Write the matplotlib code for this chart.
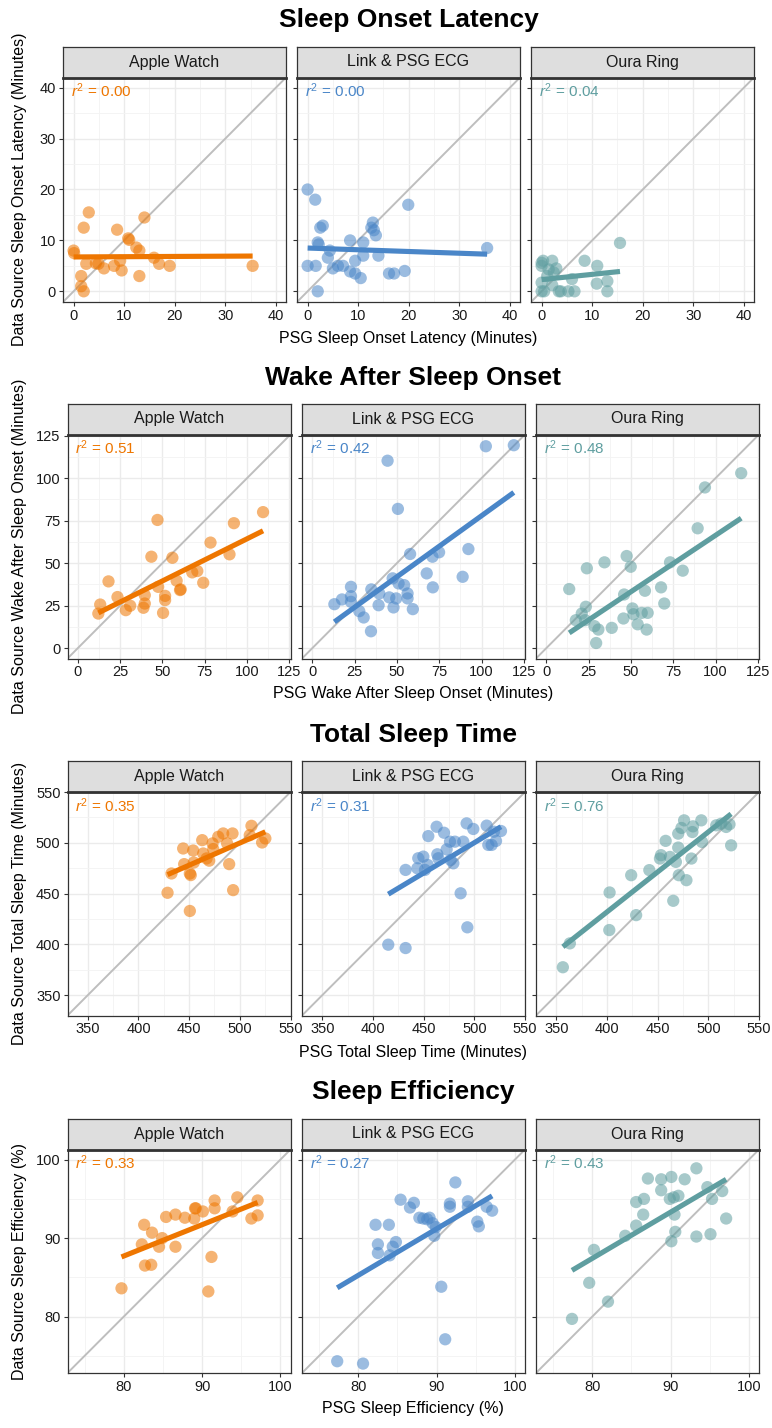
import numpy as np
import matplotlib
matplotlib.use('Agg')
import matplotlib.pyplot as plt
from matplotlib.ticker import MultipleLocator

plt.rcParams['font.family'] = ['Liberation Sans', 'DejaVu Sans']
plt.rcParams['mathtext.fontset'] = 'custom'
plt.rcParams['mathtext.it'] = 'Liberation Sans:italic'
plt.rcParams['mathtext.rm'] = 'Liberation Sans'

devices = ['Apple Watch', 'Link & PSG ECG', 'Oura Ring']
colors = ['#EE7600', '#4A86C8', '#5F9EA0']

# ---- Sleep Onset Latency (PSG x, device y) ----
sol_aw_psg = [0, 0.1, 3.0, 2.0, 1.5, 1.5, 2.0, 2.5, 4.4, 4.9, 6.0, 8.0, 8.6, 9.2, 9.5, 10.8, 11.0, 12.4, 13.0, 13.0, 14.0, 15.9, 16.9, 19.0, 35.4]
sol_aw_dev = [8.0, 7.5, 15.5, 12.5, 3.0, 1.0, 0.0, 5.4, 5.5, 5.4, 4.5, 5.0, 12.1, 6.0, 4.1, 10.4, 10.1, 8.6, 8.0, 3.0, 14.5, 6.6, 5.4, 5.0, 5.0]
sol_lk_psg = [0, 1.5, 3.0, 2.5, 2.0, 2.2, 0, 1.6, 4.4, 4.0, 5.0, 6.0, 7.0, 8.4, 9.4, 8.4, 9.4, 10.5, 11.0, 11.0, 12.9, 12.6, 13.1, 13.5, 14.0, 16.1, 17.1, 19.2, 19.9, 2.0, 35.5]
sol_lk_dev = [20.0, 18.0, 12.9, 12.5, 9.6, 9.2, 5.0, 5.0, 8.0, 6.6, 4.5, 5.0, 5.0, 10.0, 6.0, 3.9, 3.5, 2.6, 9.6, 7.0, 13.5, 12.5, 12.0, 11.0, 7.0, 3.5, 3.5, 4.0, 17.0, 0.0, 8.5]
sol_ou_psg = [0, 0.3, 0, 2.1, 2.9, 2.4, 1.1, 0, 0, 0.5, 2.1, 3.4, 3.8, 5.3, 6.5, 6.0, 8.5, 11.0, 10.9, 13.0, 13.0, 15.5, 1.4]
sol_ou_dev = [5.6, 6.0, 5.0, 6.0, 4.5, 3.7, 3.0, 1.7, 0, 0, 1.2, 0, 0, 0, 0, 2.4, 6.0, 5.0, 1.5, 2.0, 0, 9.5, 4.3]

# ---- Wake After Sleep Onset ----
waso_aw_psg = [12.2, 13.3, 18.2, 23.5, 28.4, 31.0, 38.8, 39.6, 39.6, 43.5, 47.1, 47.5, 50.4, 51.6, 51.6, 55.9, 58.4, 60.4, 60.8, 67.6, 70.6, 74.1, 78.4, 89.6, 92.2, 109.4]
waso_aw_dev = [20.4, 25.7, 39.3, 30.1, 22.4, 25.0, 23.8, 26.3, 31.2, 53.8, 75.4, 36.1, 20.8, 30.8, 28.3, 53.2, 39.7, 34.2, 34.6, 44.6, 45.4, 38.5, 62.1, 55.2, 73.5, 80.0]
waso_lk_psg = [13.1, 17.6, 22.9, 22.9, 22.9, 27.8, 30.4, 34.7, 34.9, 39.2, 39.6, 44.5, 45.5, 47.5, 48.0, 49.6, 50.6, 51.0, 54.3, 56.3, 56.3, 59.4, 57.8, 67.6, 71.0, 71.2, 74.9, 88.8, 92.2, 102.5, 119.0]
waso_lk_dev = [25.9, 28.7, 36.1, 30.6, 27.3, 21.8, 18.1, 10.0, 34.6, 25.3, 32.2, 110.2, 29.9, 41.1, 24.0, 29.3, 81.9, 38.1, 37.1, 32.2, 29.3, 23.0, 55.4, 44.0, 53.8, 35.8, 56.4, 42.0, 58.3, 118.7, 119.3]
waso_ou_psg = [13.6, 17.5, 21.0, 23.4, 24.0, 23.0, 28.5, 30.8, 29.5, 34.4, 38.7, 45.6, 46.0, 47.5, 49.9, 50.9, 51.5, 54.0, 56.4, 58.3, 59.3, 59.9, 67.8, 69.7, 73.1, 80.6, 89.4, 93.7, 115.1]
waso_ou_dev = [34.8, 16.5, 20.4, 24.4, 47.0, 16.5, 13.0, 11.0, 3.1, 50.5, 12.0, 17.5, 31.6, 54.2, 47.9, 23.4, 20.0, 14.1, 20.8, 33.8, 11.0, 20.8, 35.8, 26.3, 50.5, 45.6, 70.5, 94.5, 102.9]

# ---- Total Sleep Time ----
tst_aw_psg = [428.7, 432.6, 444.1, 445.1, 454.0, 450.7, 451.6, 450.7, 454.6, 462.9, 463.9, 467.2, 469.8, 473.1, 473.8, 478.7, 483.6, 487.5, 489.5, 492.8, 493.4, 511.5, 509.8, 522.0, 525.2]
tst_aw_dev = [450.8, 469.8, 494.4, 479.0, 492.4, 469.8, 468.2, 432.9, 480.6, 502.6, 489.5, 484.6, 482.4, 499.4, 493.8, 505.9, 509.2, 499.4, 479.0, 509.2, 453.4, 516.7, 507.5, 500.3, 504.3]
tst_lk_psg = [415.1, 432.2, 432.2, 443.8, 444.7, 449.7, 451.3, 454.0, 454.6, 462.8, 463.5, 464.5, 470.1, 472.7, 476.0, 476.6, 479.3, 480.9, 486.5, 489.1, 492.4, 493.1, 499.0, 512.2, 513.8, 517.1, 519.4, 521.4, 526.3]
tst_lk_dev = [399.7, 396.4, 473.3, 474.9, 484.8, 486.4, 473.3, 478.2, 506.6, 515.8, 488.7, 484.8, 509.9, 493.5, 501.1, 483.1, 479.8, 501.1, 450.3, 501.1, 519.1, 416.8, 513.6, 516.9, 497.9, 497.9, 510.9, 501.8, 511.6]
tst_ou_psg = [356.5, 363.4, 402.3, 402.6, 423.9, 428.8, 441.8, 452.3, 453.3, 457.9, 462.1, 465.4, 468.0, 470.3, 470.9, 470.3, 473.5, 476.1, 478.4, 483.3, 484.3, 484.9, 493.1, 493.8, 507.8, 512.7, 517.6, 520.9, 522.5]
tst_ou_dev = [377.5, 401.0, 414.1, 451.1, 468.1, 428.8, 473.1, 484.5, 487.8, 501.9, 486.1, 442.9, 481.2, 495.3, 468.1, 509.0, 514.6, 522.1, 463.2, 484.5, 510.6, 516.2, 522.1, 500.8, 517.2, 518.8, 515.6, 518.2, 497.5]

# ---- Sleep Efficiency ----
se_aw_psg = [79.7, 82.6, 82.3, 82.7, 83.5, 83.6, 84.5, 84.9, 85.4, 86.6, 86.6, 87.8, 89.1, 89.2, 89.0, 90.1, 90.8, 91.2, 91.6, 91.6, 93.9, 94.5, 96.3, 97.1, 97.1]
se_aw_dev = [83.6, 91.7, 89.2, 86.5, 86.6, 90.7, 88.9, 90.0, 92.7, 93.0, 88.9, 92.6, 93.8, 93.8, 92.5, 93.4, 83.2, 87.6, 94.8, 93.8, 93.4, 95.2, 92.5, 94.8, 92.9]
se_lk_psg = [77.3, 80.6, 82.2, 82.5, 82.5, 83.9, 84.0, 84.4, 84.8, 85.4, 86.6, 87.1, 87.8, 88.3, 88.8, 89.1, 89.5, 89.7, 89.9, 90.6, 91.1, 91.7, 91.7, 92.4, 94.0, 94.0, 95.2, 95.4, 96.4, 97.1]
se_lk_dev = [74.3, 74.0, 91.7, 89.2, 88.1, 91.7, 87.8, 88.9, 89.5, 94.9, 93.9, 94.5, 92.6, 92.5, 92.4, 92.6, 91.9, 90.3, 91.4, 83.8, 77.1, 94.4, 94.0, 97.1, 94.7, 94.0, 92.1, 91.5, 94.0, 93.5]
se_ou_psg = [77.4, 79.6, 82.0, 80.2, 84.2, 85.6, 86.5, 85.6, 86.6, 87.1, 88.8, 88.8, 89.9, 90.1, 90.4, 91.0, 90.5, 90.6, 90.1, 91.8, 93.3, 93.3, 95.1, 94.7, 95.3, 96.6, 97.1]
se_ou_dev = [79.7, 84.3, 81.9, 88.5, 90.3, 91.6, 93.0, 94.6, 95.0, 97.6, 97.5, 96.1, 95.0, 97.8, 95.2, 95.4, 93.0, 90.8, 89.6, 97.5, 98.9, 90.2, 90.5, 96.5, 95.0, 96.0, 92.5]

# fitted lines (slope, intercept) and r-squared labels
fit_sol = [(0.005, 6.75), (-0.034, 8.5), (0.103, 2.3)]
fit_waso = [(0.496, 14.75), (0.718, 6.1), (0.664, 0.0)]
fit_tst = [(0.437, 281.3), (0.597, 201.6), (0.788, 116.7)]
fit_se = [(0.399, 55.8), (0.592, 37.9), (0.589, 40.3)]
r2_sol = ['0.00', '0.00', '0.04']
r2_waso = ['0.51', '0.42', '0.48']
r2_tst = ['0.35', '0.31', '0.76']
r2_se = ['0.33', '0.27', '0.43']

metrics = [
    dict(title='Sleep Onset Latency', xlab='PSG Sleep Onset Latency (Minutes)',
         ylab='Data Source Sleep Onset Latency (Minutes)',
         data=[(sol_aw_psg, sol_aw_dev), (sol_lk_psg, sol_lk_dev), (sol_ou_psg, sol_ou_dev)],
         fits=fit_sol, r2=r2_sol, lim=(-2.1, 42.0), major=10, minor=5),
    dict(title='Wake After Sleep Onset', xlab='PSG Wake After Sleep Onset (Minutes)',
         ylab='Data Source Wake After Sleep Onset (Minutes)',
         data=[(waso_aw_psg, waso_aw_dev), (waso_lk_psg, waso_lk_dev), (waso_ou_psg, waso_ou_dev)],
         fits=fit_waso, r2=r2_waso, lim=(-6.0, 125.6), major=25, minor=12.5),
    dict(title='Total Sleep Time', xlab='PSG Total Sleep Time (Minutes)',
         ylab='Data Source Total Sleep Time (Minutes)',
         data=[(tst_aw_psg, tst_aw_dev), (tst_lk_psg, tst_lk_dev), (tst_ou_psg, tst_ou_dev)],
         fits=fit_tst, r2=r2_tst, lim=(330, 550), major=50, minor=25),
    dict(title='Sleep Efficiency', xlab='PSG Sleep Efficiency (%)',
         ylab='Data Source Sleep Efficiency (%)',
         data=[(se_aw_psg, se_aw_dev), (se_lk_psg, se_lk_dev), (se_ou_psg, se_ou_dev)],
         fits=fit_se, r2=r2_se, lim=(72.8, 101.3), major=10, minor=5),
]

W, H = 772, 1428
fig = plt.figure(figsize=(W / 100, H / 100), dpi=100)

# layout in pixels
panel_w = 223
strip_h = 31
rows = [
    dict(top=77.5, bot=302, lefts=[63, 297, 531], title_y=20, xlab_y=338),
    dict(top=434.5, bot=658.5, lefts=[67.5, 302, 536], title_y=378, xlab_y=693),
    dict(top=792, bot=1015.5, lefts=[67.5, 302, 536], title_y=735, xlab_y=1052),
    dict(top=1149.5, bot=1373, lefts=[67.5, 302, 536], title_y=1092, xlab_y=1408),
]
border = '#333333'
fs = 11

for m, r in zip(metrics, rows):
    ph = r['bot'] - r['top']
    for j in range(3):
        left = r['lefts'][j]
        ax = fig.add_axes([left / W, 1 - r['bot'] / H, panel_w / W, ph / H])
        lo, hi = m['lim']
        ax.set_xlim(lo, hi)
        ax.set_ylim(lo, hi)
        ax.xaxis.set_major_locator(MultipleLocator(m['major']))
        ax.yaxis.set_major_locator(MultipleLocator(m['major']))
        ax.xaxis.set_minor_locator(MultipleLocator(m['minor']))
        ax.yaxis.set_minor_locator(MultipleLocator(m['minor']))
        ax.grid(which='major', color='#EBEBEB', lw=1.0, zorder=0)
        ax.grid(which='minor', color='#F3F3F3', lw=0.6, zorder=0)
        ax.set_axisbelow(True)
        ax.tick_params(which='minor', length=0)
        ax.tick_params(which='major', length=3, width=0.8, color=border, labelsize=fs - 0.5,
                       pad=2, labelcolor='#1A1A1A')
        if j > 0:
            ax.tick_params(axis='y', labelleft=False)
        for s in ax.spines.values():
            s.set_color(border)
            s.set_linewidth(0.9)

        ax.axline((lo, lo), slope=1, color='#BEBEBE', lw=1.4, zorder=1)
        x, y = m['data'][j]
        x = np.asarray(x)
        y = np.asarray(y)
        c = colors[j]
        ax.scatter(x, y, s=78, color=c, alpha=0.55, edgecolors='none', zorder=2)
        slope, icpt = m['fits'][j]
        xs = np.array([x.min(), x.max()])
        ax.plot(xs, slope * xs + icpt, color=c, lw=3.7, solid_capstyle='butt', zorder=3)
        ax.text(0.035, 0.94, r'$r^2$ = ' + m['r2'][j], transform=ax.transAxes,
                color=c, fontsize=fs, ha='left', va='center')

        # facet strip
        sax = fig.add_axes([left / W, 1 - r['top'] / H, panel_w / W, strip_h / H])
        sax.set_facecolor('#DEDEDE')
        sax.set_xticks([])
        sax.set_yticks([])
        for s in sax.spines.values():
            s.set_color(border)
            s.set_linewidth(0.9)
        sax.spines['bottom'].set_linewidth(2.0)
        sax.text(0.5, 0.5, devices[j], ha='center', va='center', fontsize=fs + 0.5,
                 color='#1A1A1A', transform=sax.transAxes)

    cx = (r['lefts'][0] + r['lefts'][2] + panel_w) / 2
    fig.text(cx / W, 1 - r['title_y'] / H, m['title'], ha='center', va='center',
             fontsize=19, fontweight='bold')
    fig.text(cx / W, 1 - r['xlab_y'] / H, m['xlab'], ha='center', va='center', fontsize=fs + 0.5)
    fig.text(20 / W, 1 - (r['top'] + r['bot']) / 2 / H, m['ylab'], ha='center', va='center',
             rotation=90, fontsize=fs + 0.5)

fig.savefig('out.png', dpi=100, facecolor='white')
